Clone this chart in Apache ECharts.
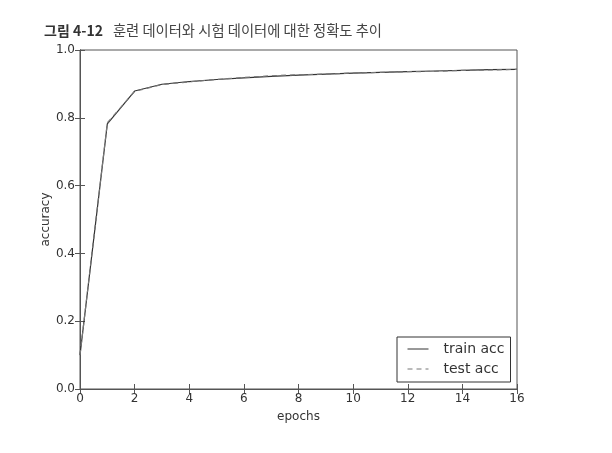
<!DOCTYPE html>
<html>
<head>
<meta charset="utf-8">
<script src="https://cdn.jsdelivr.net/npm/echarts@6/dist/echarts.min.js"></script>
<style>
html,body{margin:0;padding:0;background:#fff;}
#chart{width:612px;height:453px;}
</style>
</head>
<body>
<div id="chart"></div>
<script>
var epochs = [0,1,2,3,4,5,6,7,8,9,10,11,12,13,14,15,16];
var trainAcc = [0.100,0.782,0.879,0.899,0.907,0.913,0.918,0.922,0.926,0.929,0.932,0.934,0.936,0.938,0.940,0.942,0.943];
var testAcc  = [0.100,0.785,0.878,0.898,0.906,0.913,0.919,0.924,0.927,0.929,0.932,0.934,0.936,0.937,0.940,0.941,0.943];
var titleBold = '그림 4-12';
var titleText = '훈련 데이터와 시험 데이터에 대한 정확도 추이';
var xName = 'epochs';
var yName = 'accuracy';
var seriesNames = ['train acc','test acc'];

function pairs(xs, ys){ return xs.map(function(x,i){return [x, ys[i]];}); }

var font = 'DejaVu Sans';
var axisCol = '#555';
var chart = echarts.init(document.getElementById('chart'), null, {renderer:'canvas'});
var tickStyle = {show:true, inside:true, length:5, lineStyle:{color:axisCol, width:1}};
chart.setOption({
  animation:false,
  backgroundColor:'#fff',
  title:{
    text:'{b|' + titleBold + '}  {n|' + titleText + '}',
    left:39, top:17,
    textStyle:{rich:{
      b:{fontFamily:'Noto Sans CJK KR', fontWeight:'bold', fontSize:14, color:'#333'},
      n:{fontFamily:'Noto Sans CJK KR', fontWeight:'normal', fontSize:14.3, color:'#444'}
    }}
  },
  grid:{left:80, right:95, top:50, bottom:64, show:true, borderColor:axisCol, borderWidth:1},
  legend:{
    left:397, top:337, orient:'vertical',
    itemWidth:21, itemHeight:14, itemGap:6,
    padding:[5,6,6,10],
    borderColor:'#333', borderWidth:1, borderRadius:0,
    backgroundColor:'#fff',
    itemStyle:{opacity:0},
    lineStyle:{width:1},
    textStyle:{fontFamily:font, fontSize:14, color:'#333', padding:[0,0,0,10]},
    data:seriesNames
  },
  xAxis:[{
    type:'value', min:0, max:16, interval:2,
    name:xName, nameLocation:'middle', nameGap:22, nameMoveOverlap:false,
    nameTextStyle:{fontFamily:font, fontSize:12, color:'#333'},
    axisLine:{lineStyle:{color:axisCol}},
    axisTick:tickStyle,
    axisLabel:{fontFamily:font, fontSize:12, color:'#333', margin:4},
    splitLine:{show:false}
  },{
    type:'value', min:0, max:16, interval:2, position:'top',
    axisLine:{lineStyle:{color:axisCol}},
    axisTick:tickStyle, axisLabel:{show:false}, splitLine:{show:false}
  }],
  yAxis:[{
    type:'value', min:0, max:1, interval:0.2,
    name:yName, nameLocation:'middle', nameGap:28, nameRotate:90, nameMoveOverlap:false,
    nameTextStyle:{fontFamily:font, fontSize:12, color:'#333'},
    axisLine:{show:true, lineStyle:{color:axisCol}},
    axisTick:tickStyle,
    axisLabel:{fontFamily:font, fontSize:12, color:'#333', margin:5,
      formatter:function(v){return v.toFixed(1);}},
    splitLine:{show:false}
  },{
    type:'value', min:0, max:1, interval:0.2, position:'right',
    axisLine:{show:true, lineStyle:{color:axisCol}},
    axisTick:tickStyle, axisLabel:{show:false}, splitLine:{show:false}
  }],
  series:[{
    name:seriesNames[0], type:'line', data:pairs(epochs, trainAcc),
    symbol:'none', lineStyle:{color:'#333', width:1.2}, itemStyle:{color:'#333'}
  },{
    name:seriesNames[1], type:'line', data:pairs(epochs, testAcc),
    symbol:'none', lineStyle:{color:'#777', width:1.2, type:[5,4]}, itemStyle:{color:'#777'}
  }]
});
</script>
</body>
</html>
